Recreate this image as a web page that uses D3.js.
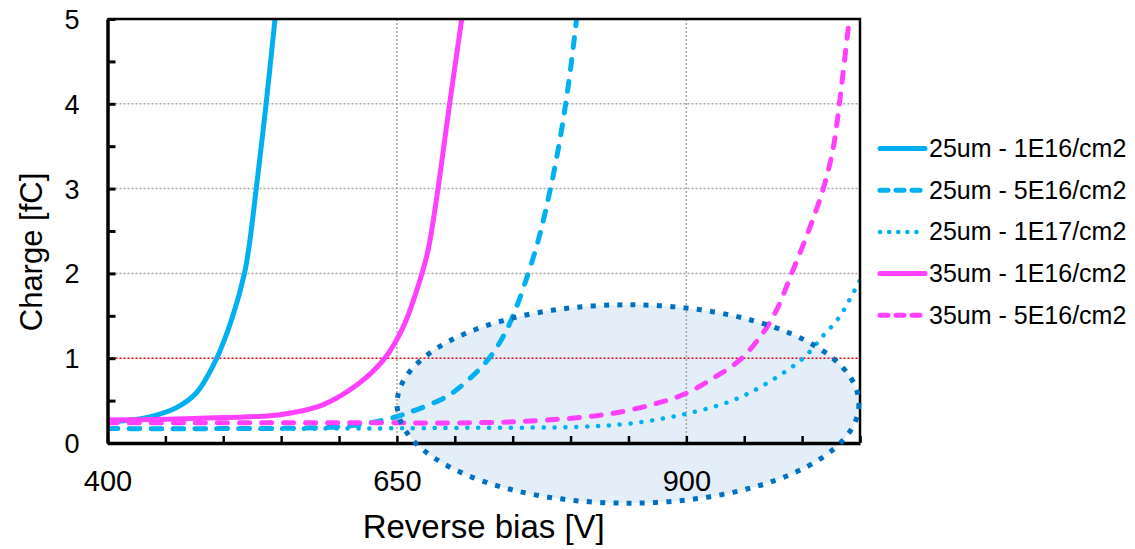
<!DOCTYPE html>
<html>
<head>
<meta charset="utf-8">
<script src="https://cdn.jsdelivr.net/npm/d3@7"></script>
<style>
  body { margin: 0; background: #fff; }
  text { font-family: "Liberation Sans", Arial, sans-serif; fill: #000; }
</style>
</head>
<body>
<div id="chart"></div>
<script>
// Data (Reverse bias [V] -> Charge [fC])
const seriesNames = ["25um - 1E16/cm2", "25um - 5E16/cm2", "25um - 1E17/cm2", "35um - 1E16/cm2", "35um - 5E16/cm2"];

const v25_1e16 = [400, 420, 440, 460, 476.6, 494, 508.3, 518.3, 521.9, 528.5, 537, 544.7];
const q25_1e16 = [0.25, 0.27, 0.32, 0.42, 0.59, 0.99, 1.5, 2.0, 2.28, 3.0, 4.0, 5.0];

const v25_5e16 = [400, 500, 600, 623.5, 644.4, 658.3, 693.2, 714.5, 728.5, 739.5, 750, 769.8, 782, 791.7, 799.1, 805.2];
const q25_5e16 = [0.17, 0.17, 0.19, 0.23, 0.29, 0.35, 0.55, 0.78, 0.98, 1.2, 1.49, 2.28, 2.96, 3.65, 4.32, 5.0];

const v25_1e17 = [400, 600, 722, 808.5, 851.3, 895, 937.7, 966.5, 1000.9, 1018.5, 1031.4, 1041, 1050];
const q25_1e17 = [0.17, 0.17, 0.18, 0.19, 0.23, 0.33, 0.49, 0.68, 1.0, 1.27, 1.47, 1.69, 1.92];

const v35_1e16 = [400, 450, 500, 540, 557, 586, 615, 638.4, 655.5, 669, 677, 685.5, 695.5, 706];
const q35_1e16 = [0.27, 0.28, 0.30, 0.32, 0.35, 0.45, 0.68, 0.98, 1.37, 1.88, 2.28, 3.0, 4.0, 5.0];

const v35_5e16 = [400, 600, 722, 779.6, 836.4, 880.2, 900.5, 922.7, 946.3, 966.3, 978, 991, 1005.3, 1018.3, 1026.9, 1032.1, 1036.2, 1040.8];
const q35_5e16 = [0.24, 0.24, 0.24, 0.27, 0.35, 0.49, 0.59, 0.76, 0.98, 1.30, 1.57, 2.0, 2.49, 3.0, 3.48, 3.99, 4.46, 5.0];

const xTicks = [400, 450, 500, 550, 600, 650, 700, 750, 800, 850, 900, 950, 1000, 1050];
const xLabels = [400, 650, 900];
const yTicks = [0, 0.5, 1, 1.5, 2, 2.5, 3, 3.5, 4, 4.5, 5];
const yLabels = [0, 1, 2, 3, 4, 5];
const xGrid = [650, 900];
const yGrid = [2, 3, 4];
const threshold = 1;

// highlighted region (center and radii in data units)
const ellipseCenter = [849.6, 0.46];
const ellipseRadius = [199.5, 1.17];

const cyan = "#00B0F0", magenta = "#FF40FF";
const styles = [
    { color: cyan, dash: null },
    { color: cyan, dash: "10,12" },
    { color: cyan, dash: "0.1,10.8" },
    { color: magenta, dash: null },
    { color: magenta, dash: "10,12" }
];

const allV = [v25_1e16, v25_5e16, v25_1e17, v35_1e16, v35_5e16];
const allQ = [q25_1e16, q25_5e16, q25_1e17, q35_1e16, q35_5e16];
const series = seriesNames.map((name, i) => ({
    name,
    values: allV[i].map((v, j) => ({ v, q: allQ[i][j] })),
    ...styles[i]
}));

const width = 1135, height = 549;
const plot = { left: 107.5, right: 860, top: 19, bottom: 443 };

const svg = d3.select("#chart").append("svg")
    .attr("width", width)
    .attr("height", height);

const x = d3.scaleLinear().domain([400, 1050]).range([plot.left, plot.right]);
const y = d3.scaleLinear().domain([0, 5]).range([plot.bottom, plot.top]);

svg.append("defs").append("clipPath").attr("id", "plotclip")
    .append("rect")
    .attr("x", plot.left).attr("y", plot.top)
    .attr("width", plot.right - plot.left).attr("height", plot.bottom - plot.top);

// Highlight ellipse: fill goes underneath everything, dotted outline on top later
const ell = {
    cx: x(ellipseCenter[0]),
    cy: y(ellipseCenter[1]),
    rx: x(ellipseCenter[0] + ellipseRadius[0]) - x(ellipseCenter[0]),
    ry: y(ellipseCenter[1]) - y(ellipseCenter[1] + ellipseRadius[1])
};
svg.append("ellipse")
    .attr("cx", ell.cx).attr("cy", ell.cy)
    .attr("rx", ell.rx).attr("ry", ell.ry)
    .attr("fill", "#E4EEF8");

// Grid
svg.append("g").selectAll("line").data(xGrid).enter().append("line")
    .attr("x1", d => x(d)).attr("x2", d => x(d))
    .attr("y1", plot.top).attr("y2", plot.bottom)
    .attr("stroke", "#A6A6A6").attr("stroke-width", 1.5)
    .attr("stroke-dasharray", "2,2");

svg.append("g").selectAll("line").data(yGrid).enter().append("line")
    .attr("x1", plot.left).attr("x2", plot.right)
    .attr("y1", d => y(d)).attr("y2", d => y(d))
    .attr("stroke", "#A6A6A6").attr("stroke-width", 1.5)
    .attr("stroke-dasharray", "2,2");

// 1 fC threshold
svg.append("line")
    .attr("x1", plot.left).attr("x2", plot.right)
    .attr("y1", y(threshold)).attr("y2", y(threshold))
    .attr("stroke", "#E00000").attr("stroke-width", 1.5)
    .attr("stroke-dasharray", "2,2");

// Curves
const line = d3.line()
    .x(d => x(d.v))
    .y(d => y(d.q))
    .curve(d3.curveCatmullRom.alpha(0.5));

svg.append("g").attr("clip-path", "url(#plotclip)")
    .selectAll("path").data(series).enter().append("path")
    .attr("d", d => line(d.values))
    .attr("fill", "none")
    .attr("stroke", d => d.color)
    .attr("stroke-width", d => d.dash && d.dash.startsWith("0.1") ? 4.5 : 5)
    .attr("stroke-linecap", "round")
    .attr("stroke-dasharray", d => d.dash);

// Axes
const yAxis = d3.axisLeft(y)
    .tickValues(yTicks)
    .tickSizeInner(-8)
    .tickSizeOuter(0)
    .tickPadding(28)
    .tickFormat(d => yLabels.includes(d) ? d : "");

const gy = svg.append("g")
    .attr("transform", `translate(${plot.left},0)`)
    .call(yAxis);
gy.select(".domain").attr("stroke-width", 3.5);
gy.selectAll(".tick line").attr("stroke-width", 3);
gy.selectAll("text").style("font-size", "27px").attr("dy", "0.35em");

const xAxis = d3.axisBottom(x)
    .tickValues(xTicks)
    .tickSizeInner(-7)
    .tickSizeOuter(0)
    .tickPadding(27)
    .tickFormat(d => xLabels.includes(d) ? d : "");

const gx = svg.append("g")
    .attr("transform", `translate(0,${plot.bottom})`)
    .call(xAxis);
gx.select(".domain").attr("stroke-width", 3.5);
gx.selectAll(".tick line").attr("stroke-width", 2.5);
gx.selectAll("text").style("font-size", "29px");

// top and right border
svg.append("path")
    .attr("d", `M${plot.left},${plot.top}H${plot.right}V${plot.bottom}`)
    .attr("fill", "none")
    .attr("stroke", "#000")
    .attr("stroke-width", 2.5);

// dotted outline of the highlight
svg.append("ellipse")
    .attr("cx", ell.cx).attr("cy", ell.cy)
    .attr("rx", ell.rx).attr("ry", ell.ry)
    .attr("fill", "none")
    .attr("stroke", "#0070C0")
    .attr("stroke-width", 5)
    .attr("stroke-dasharray", "5,8.3");

// Axis titles
svg.append("text")
    .attr("x", (plot.left + plot.right) / 2)
    .attr("y", 538)
    .attr("text-anchor", "middle")
    .style("font-size", "33px")
    .text("Reverse bias [V]");

svg.append("text")
    .attr("transform", "rotate(-90)")
    .attr("x", -252)
    .attr("y", 42)
    .attr("text-anchor", "middle")
    .style("font-size", "31px")
    .text("Charge [fC]");

// Legend
const legend = svg.selectAll(".legend")
    .data(series)
    .enter()
    .append("g")
    .attr("class", "legend")
    .attr("transform", (d, i) => `translate(0, ${148.5 + i * 41.7})`);

legend.append("line")
    .attr("x1", 880).attr("x2", 925)
    .attr("y1", 0).attr("y2", 0)
    .attr("stroke", d => d.color)
    .attr("stroke-width", d => d.dash && d.dash.startsWith("0.1") ? 4.5 : 5)
    .attr("stroke-linecap", "round")
    .attr("stroke-dasharray", d => d.dash && d.dash.startsWith("0.1") ? "0.1,9" : d.dash ? "8,8" : null);

legend.append("text")
    .attr("x", 929)
    .attr("y", 8.5)
    .style("font-size", "25px")
    .text(d => d.name);
</script>
</body>
</html>
